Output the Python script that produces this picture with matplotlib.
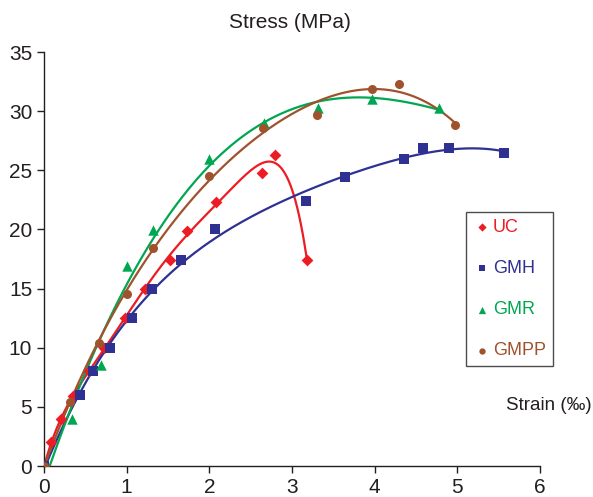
import matplotlib.pyplot as plt
import numpy as np

plt.rcParams['font.family'] = ['Liberation Sans', 'DejaVu Sans']

# strain (per mille) / stress (MPa) readings for each specimen
uc_strain = [0.0, 0.09, 0.21, 0.35, 0.54, 0.72, 0.98, 1.22, 1.53, 1.73, 2.08, 2.64, 2.79, 3.18]
uc_stress = [0.0, 2.0, 3.95, 5.9, 8.0, 10.0, 12.5, 15.0, 17.4, 19.9, 22.35, 24.8, 26.3, 17.4]

gmh_strain = [0.0, 0.43, 0.59, 0.80, 1.06, 1.31, 1.66, 2.07, 3.17, 3.64, 4.36, 4.58, 4.90, 5.56]
gmh_stress = [0.0, 6.0, 8.0, 9.95, 12.5, 15.0, 17.45, 20.0, 22.4, 24.45, 25.95, 26.9, 26.85, 26.45]

gmr_strain = [0.0, 0.34, 0.69, 1.01, 1.32, 2.0, 2.66, 3.31, 3.97, 4.78]
gmr_stress = [0.0, 3.95, 8.5, 16.9, 19.95, 25.95, 28.97, 30.3, 31.0, 30.3]

gmpp_strain = [0.0, 0.31, 0.66, 1.0, 1.32, 1.99, 2.65, 3.30, 3.97, 4.30, 4.97]
gmpp_stress = [0.0, 5.4, 10.4, 14.5, 18.45, 24.5, 28.6, 29.7, 31.9, 32.3, 28.8]

series = [
    ('UC', uc_strain, uc_stress, '#ec1c24', 'D', 6, 6),
    ('GMH', gmh_strain, gmh_stress, '#2e3192', 's', 6.5, 4),
    ('GMR', gmr_strain, gmr_stress, '#00a651', '^', 7.5, 3),
    ('GMPP', gmpp_strain, gmpp_stress, '#a0522d', 'o', 6.5, 4),
]

fig = plt.figure(figsize=(5.93, 4.97), dpi=100)
ax = fig.add_axes([44 / 593, 31 / 497, 496 / 593, 414 / 497])

handles = []
for name, x, y, color, marker, ms, deg in series:
    x = np.array(x)
    y = np.array(y)
    # polynomial trendline over the measured range
    coef = np.polyfit(x, y, deg)
    xs = np.linspace(0, x.max(), 300)
    ax.plot(xs, np.polyval(coef, xs), color=color, lw=1.6, zorder=2)
    h = ax.scatter(x, y, color=color, marker=marker, s=ms ** 2, zorder=3,
                   linewidths=0)
    handles.append(h)

ax.set_xlim(0, 6)
ax.set_ylim(0, 35)
ax.set_xticks(range(0, 7))
ax.set_yticks(range(0, 36, 5))
ax.spines['top'].set_visible(False)
ax.spines['right'].set_visible(False)
for s in ('left', 'bottom'):
    ax.spines[s].set_color('#231f20')
    ax.spines[s].set_linewidth(1.0)
ax.tick_params(direction='out', length=5, width=1.0, colors='#231f20',
               labelsize=15, labelcolor='#231f20')

fig.text(290 / 593, 1 - 22 / 497, 'Stress (MPa)', ha='center', va='center',
         fontsize=15, color='#231f20')
fig.text(592 / 593, 1 - 406 / 497, 'Strain (‰)', ha='right', va='center',
         fontsize=13.5, color='#231f20')

leg = ax.legend(handles, [s[0] for s in series], loc='upper left',
                bbox_to_anchor=(422 / 496, (466 - 212) / 414),
                frameon=True, fancybox=False, fontsize=13, handletextpad=0.1,
                handlelength=1.0, labelspacing=1.33, borderpad=0.4,
                markerscale=0.7, borderaxespad=0)
leg.get_frame().set_edgecolor('#231f20')
leg.get_frame().set_linewidth(1.0)
for txt, s in zip(leg.get_texts(), series):
    txt.set_color(s[3])

fig.savefig('out.png', dpi=100)
